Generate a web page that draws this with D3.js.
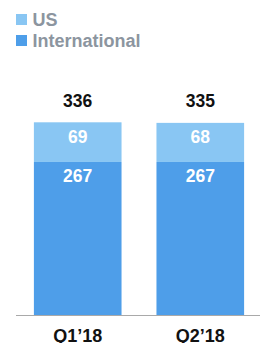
<!DOCTYPE html>
<html><head><meta charset="utf-8">
<script src="https://cdn.jsdelivr.net/npm/d3@7"></script>
<style>html,body{margin:0;padding:0;background:#fff;}svg{display:block;}</style>
</head><body>
<svg id="c" width="260" height="343"></svg>
<script>
const categories = ["Q1\u201918", "Q2\u201918"];
const international = [267, 267];
const us = [69, 68];
const seriesNames = ["US", "International"];
const colors = {US: "#89C6F3", International: "#4E9EE9"};

const svg = d3.select("#c");
const font = "Helvetica, Arial, 'Liberation Sans', sans-serif";
const baseline = 315.5;
const xb = d3.scaleBand().domain(categories).range([16, 262]).paddingInner(0.285).paddingOuter(0.146);
const y = d3.scaleLinear().domain([0, 336]).range([baseline, 122.3]);

const data = categories.map((c, i) => ({c, intl: international[i], us: us[i], total: international[i] + us[i]}));

const g = svg.append("g");
g.selectAll("rect.intl").data(data).join("rect")
  .attr("x", d => xb(d.c)).attr("width", xb.bandwidth())
  .attr("y", d => y(d.intl)).attr("height", d => baseline - y(d.intl))
  .attr("fill", colors.International);
g.selectAll("rect.us").data(data).join("rect")
  .attr("x", d => xb(d.c)).attr("width", xb.bandwidth())
  .attr("y", d => y(d.intl + d.us)).attr("height", d => y(d.intl) - y(d.intl + d.us))
  .attr("fill", colors.US);

svg.append("line").attr("x1", 16).attr("x2", 260).attr("y1", baseline).attr("y2", baseline)
  .attr("stroke", "#a9a9a9").attr("stroke-width", 1);

const cx = d => xb(d.c) + xb.bandwidth() / 2;
const fs = 17.5;
g.selectAll("text.tot").data(data).join("text")
  .attr("x", cx).attr("y", d => y(d.total) - 15.8)
  .attr("text-anchor", "middle").attr("font-family", font).attr("font-weight", "bold")
  .attr("font-size", fs).attr("fill", "#111").text(d => d.total);
g.selectAll("text.usl").data(data).join("text")
  .attr("x", cx).attr("y", d => y(d.intl + d.us) + 20.2)
  .attr("text-anchor", "middle").attr("font-family", font).attr("font-weight", "bold")
  .attr("font-size", fs).attr("fill", "#fff").text(d => d.us);
g.selectAll("text.inl").data(data).join("text")
  .attr("x", cx).attr("y", d => y(d.intl) + 19.8)
  .attr("text-anchor", "middle").attr("font-family", font).attr("font-weight", "bold")
  .attr("font-size", fs).attr("fill", "#fff").text(d => d.intl);
g.selectAll("text.cat").data(data).join("text")
  .attr("x", cx).attr("y", 342)
  .attr("text-anchor", "middle").attr("font-family", font).attr("font-weight", "bold")
  .attr("font-size", 18).attr("fill", "#111").text(d => d.c);

const lg = svg.append("g");
seriesNames.forEach((n, i) => {
  lg.append("rect").attr("x", 16).attr("y", 14 + i * 21).attr("width", 11).attr("height", 11).attr("fill", colors[n]);
  lg.append("text").attr("x", 32.5).attr("y", 25.5 + i * 21).attr("font-family", font).attr("font-weight", "bold")
    .attr("font-size", 18).attr("fill", "#8C959F").text(n);
});
</script>
</body></html>
